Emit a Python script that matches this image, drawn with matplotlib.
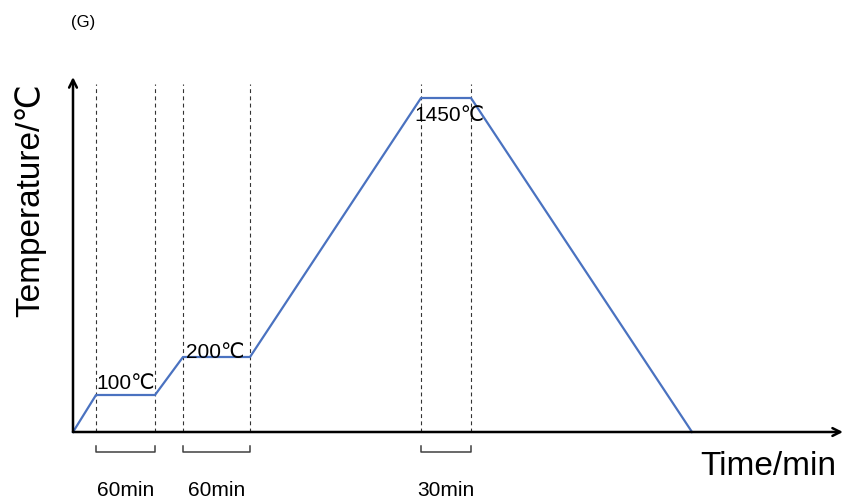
import matplotlib.pyplot as plt
import numpy as np

plt.rcParams['font.family'] = ['Liberation Sans', 'DejaVu Sans']

# heat-treatment schedule (schematic time axis, temperatures in degC)
t_pts = [0, 23, 82, 110, 177, 348, 398, 619]
temp_pts = [0, 100, 100, 200, 200, 1450, 1450, 0]

# hold stages: (start index, end index, label)
holds = [(1, 2, "60min"), (3, 4, "60min"), (5, 6, "30min")]
temp_labels = ["100\u2103", "200\u2103", "1450\u2103"]

# piecewise temperature scale so the low holds stay visible
T_ref = [0, 100, 200, 1450, 1600]
h_ref = [0, 37, 75, 334, 365]


def fwd(T):
    return np.interp(T, T_ref, h_ref)


def inv(h):
    return np.interp(h, h_ref, T_ref)


fig = plt.figure(figsize=(8.45, 5.02), dpi=100)
ax = fig.add_axes([73/845, 69/502, 770/845, 348/502])
ax.set_yscale('function', functions=(fwd, inv))
ax.set_xlim(0, 770)
ax.set_ylim(0, float(inv(348)))

ax.plot(t_pts, temp_pts, color='#4a72c0', lw=1.6, clip_on=False, zorder=3)

# dashed guides at the start and end of every hold
for i0, i1, lab in holds:
    for i in (i0, i1):
        ax.axvline(t_pts[i], color='#333333', lw=0.8, ls=(0, (3.5, 3)), zorder=1)
    x0, x1 = t_pts[i0], t_pts[i1]
    ax.plot([x0, x0, x1, x1], [-0.040, -0.0575, -0.0575, -0.040], color='#404040',
            lw=1.1, transform=ax.get_xaxis_transform(), clip_on=False)
    ax.text((x0 + x1) / 2, -0.164, lab, ha='center', va='center', fontsize=15,
            transform=ax.get_xaxis_transform())

# temperature labels on the holds
ax.annotate(temp_labels[0], (t_pts[1], temp_pts[1]), xytext=(0, 2),
            textcoords='offset points', ha='left', va='bottom', fontsize=15)
ax.annotate(temp_labels[1], (t_pts[3], temp_pts[3]), xytext=(2, -3),
            textcoords='offset points', ha='left', va='bottom', fontsize=15)
ax.annotate(temp_labels[2], (t_pts[5], temp_pts[5]), xytext=(-5, -5),
            textcoords='offset points', ha='left', va='top', fontsize=15)

# axes drawn as arrows
for s in ax.spines.values():
    s.set_visible(False)
ax.set_xticks([])
ax.set_yticks([])
ax.annotate('', xy=(1.0, 0), xytext=(0, 0), xycoords='axes fraction',
            arrowprops=dict(arrowstyle='->', lw=1.8, color='black',
                            shrinkA=0, shrinkB=0, mutation_scale=14))
ax.annotate('', xy=(0, 1.02), xytext=(0, 0), xycoords='axes fraction',
            arrowprops=dict(arrowstyle='->', lw=1.8, color='black',
                            shrinkA=0, shrinkB=0, mutation_scale=14))

ax.text(0.991, -0.095, "Time/min", ha='right', va='center', fontsize=24,
        transform=ax.transAxes)
fig.text(30/845, 1 - 200/502, "Temperature/\u2103", rotation=90, ha='center',
         va='center', fontsize=24)
fig.text(83/845, 1 - 22/502, "(G)", ha='center', va='center', fontsize=12)

fig.savefig('out.png', dpi=100)
